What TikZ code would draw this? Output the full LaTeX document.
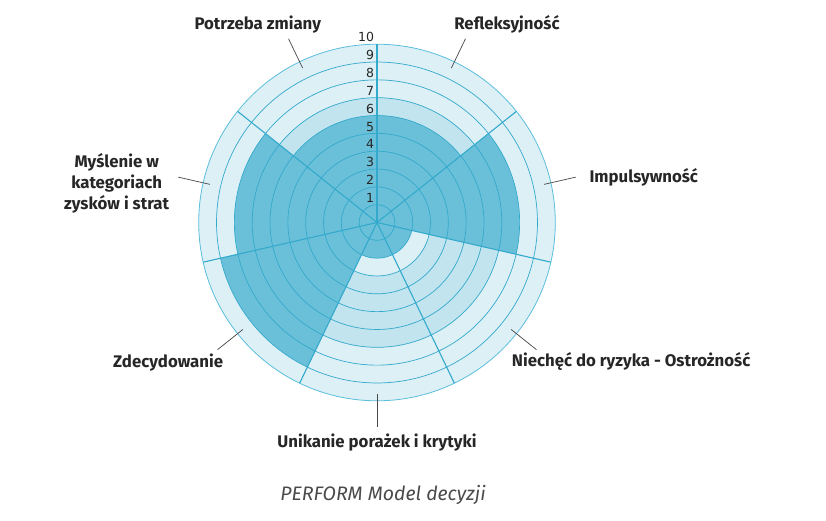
\documentclass[tikz,border=0pt]{standalone}
\usepackage{fontspec}
\setmainfont{Fira Sans}
\newfontfamily\numfont{DejaVu Sans}
\definecolor{lightb}{HTML}{DDF0F6}
\definecolor{medb}{HTML}{C1E4EE}
\definecolor{darkb}{HTML}{6BC0D9}
\definecolor{lineb}{HTML}{33A9CC}
\definecolor{outerb}{HTML}{5BBEDD}
\definecolor{txtc}{HTML}{262626}
\definecolor{capc}{HTML}{4A4A4A}
\tikzset{
  ringline/.style={draw=lineb, line width=0.7pt},
  outerline/.style={draw=outerb, line width=0.8pt},
  radline/.style={draw=lineb, line width=1.1pt},
  numlbl/.style={font=\numfont\fontsize{12.5}{14}\selectfont, text=txtc, inner sep=0pt},
  catlbl/.style={font=\bfseries\fontsize{16.8}{20.6}\selectfont, text=txtc, inner sep=0pt},
  leader/.style={draw=txtc!85, line width=0.7pt},
  caplbl/.style={font=\itshape\fontsize{19.5}{22}\selectfont, text=capc, inner sep=0pt}
}
\begin{document}
\begin{tikzpicture}[x=1pt,y=1pt]
\useasboundingbox (-377,-297.5) rectangle (449,222.5);
% background disc
\fill[lightb] (0,0) circle[radius=178.3];
% norm band 3-7
\fill[medb, even odd rule] (0,0) circle[radius=124.81] (0,0) circle[radius=53.49];
% value sectors
\foreach \v [count=\i from 0] in {6,8,2,2,9,8,6} {
  \pgfmathsetmacro\aa{90-\i*360/7}
  \pgfmathsetmacro\bb{90-(\i+1)*360/7}
  \pgfmathsetmacro\rr{\v*17.83}
  \fill[darkb] (0,0) -- (\aa:\rr) arc[start angle=\aa, end angle=\bb, radius=\rr] -- cycle;
}
% rings
\foreach \k in {1,...,9} {
  \draw[ringline] (0,0) circle[radius=\k*17.83];
}
\draw[outerline] (0,0) circle[radius=178.3];
% radial lines
\foreach \i in {0,...,6} {
  \draw[radline] (0,0) -- ({90-\i*360/7}:178.3);
}
% scale numbers
\foreach \k in {1,...,10} {
  \node[numlbl, anchor=base east] (n\k) at (-2.8, \k*17.83+2.3) {\k};
}
% leader lines
\foreach \nm/\ang in {ref/64.29, imp/12.86, nie/-38.57, uni/-90, zde/-141.43, mys/167.14, pot/115.71} {
  \coordinate (\nm A) at (\ang:171.5);
  \coordinate (\nm B) at (\ang:204);
  \draw[leader] (\nm A) -- (\nm B);
}
% category labels
\node[catlbl, anchor=base] (pot) at (-119.2, 193.5) {Potrzeba zmiany};
\node[catlbl, anchor=base] (ref) at (130, 193.5) {Refleksyjność};
\node[catlbl, anchor=base west] (imp) at (212.3, 40.2) {Impulsywność};
\node[catlbl, anchor=base west] (nie) at (134.7, -144.2) {Niechęć do ryzyka - Ostrożność};
\node[catlbl, anchor=base] (uni) at (0, -225.2) {Unikanie porażek i krytyki};
\node[catlbl, anchor=base east] (zde) at (-153.7, -144.8) {Zdecydowanie};
\node[catlbl, align=center, anchor=center] (mys) at (-260.3, 39.2) {Myślenie w\\kategoriach\\zysków i strat};
% caption
\node[caplbl, anchor=base] (cap) at (6, -278) {PERFORM Model decyzji};
\end{tikzpicture}
\end{document}
